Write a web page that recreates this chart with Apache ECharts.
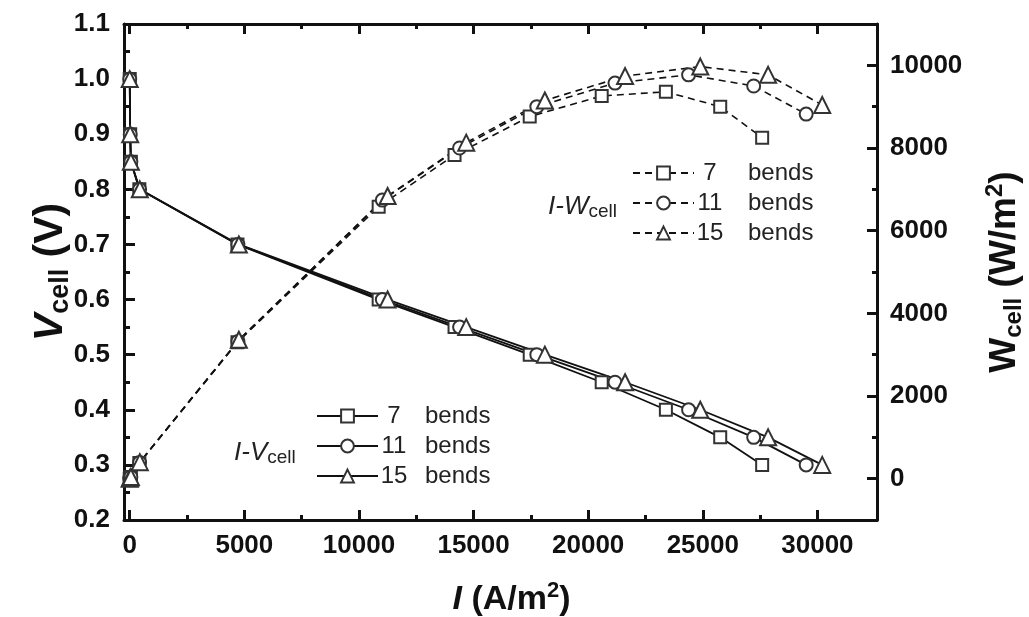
<!DOCTYPE html>
<html>
<head>
<meta charset="utf-8">
<script src="https://cdn.jsdelivr.net/npm/echarts@6/dist/echarts.min.js"></script>
<style>
  html, body { margin: 0; padding: 0; background: #fff; }
  #main { width: 1029px; height: 617px; }
</style>
</head>
<body>
<div id="main"></div>
<script>
// current density I (A/m2) of every measured point, one list per channel
const current7 = [0, 20, 50, 420, 4700, 10860, 14170, 17450, 20590, 23390, 25760, 27590];
const current11 = [0, 20, 50, 430, 4720, 11020, 14390, 17760, 21170, 24380, 27220, 29510];
const current15 = [0, 20, 50, 440, 4760, 11250, 14680, 18110, 21610, 24890, 27850, 30210];
// cell voltage (V)
const volt7 = [1.0, 0.9, 0.85, 0.8, 0.7, 0.6, 0.55, 0.5, 0.45, 0.4, 0.35, 0.3];
const volt11 = [1.0, 0.9, 0.85, 0.8, 0.7, 0.6, 0.55, 0.5, 0.45, 0.4, 0.35, 0.3];
const volt15 = [1.0, 0.9, 0.85, 0.8, 0.7, 0.6, 0.55, 0.5, 0.45, 0.4, 0.35, 0.3];
// cell power density (W/m2)
const power7 = [0, 20, 40, 380, 3300, 6580, 7830, 8760, 9260, 9360, 9000, 8250];
const power11 = [0, 20, 40, 390, 3320, 6740, 8000, 9000, 9570, 9770, 9500, 8820];
const power15 = [0, 20, 40, 400, 3360, 6840, 8130, 9150, 9740, 9970, 9770, 9040];

const xTicks = [0, 5000, 10000, 15000, 20000, 25000, 30000];
const xMinorTicks = [2500, 7500, 12500, 17500, 22500, 27500];
const wTicks = [0, 2000, 4000, 6000, 8000, 10000];
const wMinorTicks = [1000, 3000, 5000, 7000, 9000];

const bendLabels = { v7: '7', v11: '11', v15: '15', w7: '7', w11: '11', w15: '15' };

const FONT = "'Liberation Sans', Arial, sans-serif";
const INK = '#111';

function pairs(xs, ys) {
  return xs.map((x, i) => [x, ys[i]]);
}

const chart = echarts.init(document.getElementById('main'));

const tickLabel = { color: INK, fontFamily: FONT, fontWeight: 'bold', fontSize: 26 };

// rich styles for the axis titles, big = main letters, small = sub/superscripts
function nameRich(big, small) {
  return {
    i: { fontFamily: FONT, fontWeight: 'bold', fontStyle: 'italic', fontSize: big, lineHeight: big + 6, color: INK },
    n: { fontFamily: FONT, fontWeight: 'bold', fontSize: big, lineHeight: big + 6, color: INK },
    s: { fontFamily: FONT, fontWeight: 'bold', fontSize: small, lineHeight: small - 4, verticalAlign: 'bottom', color: INK },
    p: { fontFamily: FONT, fontWeight: 'bold', fontSize: small, lineHeight: small - 4, verticalAlign: 'top', color: INK }
  };
}
const axisLine = { show: true, onZero: false, lineStyle: { color: INK, width: 3 } };

function xAxisOf(position, ticks, len, withLine, withLabel) {
  return {
    type: 'value',
    position: position,
    min: -250,
    max: 32600,
    axisLine: withLine ? axisLine : { show: false, onZero: false },
    axisTick: { show: true, inside: true, length: len, customValues: ticks, lineStyle: { color: INK, width: 3 } },
    axisLabel: withLabel
      ? Object.assign({ customValues: ticks, margin: 13, formatter: v => String(v) }, tickLabel)
      : { show: false },
    splitLine: { show: false }
  };
}

const vSeries = [
  { name: 'v7', x: current7, y: volt7, symbol: 'emptyRect', size: 12 },
  { name: 'v11', x: current11, y: volt11, symbol: 'emptyCircle', size: 13 },
  { name: 'v15', x: current15, y: volt15, symbol: 'emptyTriangle', size: 16 }
].map(s => ({
  name: s.name,
  type: 'line',
  xAxisIndex: 0,
  yAxisIndex: 0,
  data: pairs(s.x, s.y),
  symbol: s.symbol,
  symbolSize: s.size,
  color: '#333',
  lineStyle: { color: INK, width: 1.8 },
  itemStyle: { borderWidth: 1.5, borderColor: '#333' },
  z: 3
}));

const wSeries = [
  { name: 'w7', x: current7, y: power7, symbol: 'emptyRect', size: 12 },
  { name: 'w11', x: current11, y: power11, symbol: 'emptyCircle', size: 13 },
  { name: 'w15', x: current15, y: power15, symbol: 'emptyTriangle', size: 16 }
].map(s => ({
  name: s.name,
  type: 'line',
  xAxisIndex: 0,
  yAxisIndex: 1,
  data: pairs(s.x, s.y),
  symbol: s.symbol,
  symbolSize: s.size,
  color: '#333',
  lineStyle: { color: INK, width: 1.6, type: [7, 5] },
  itemStyle: { borderWidth: 1.5, borderColor: '#333' },
  z: 2
}));

function legendOf(names, left, top, gap) {
  return {
    data: names,
    orient: 'vertical',
    left: left,
    top: top,
    itemWidth: 61,
    itemHeight: 16,
    itemGap: 6,
    selectedMode: false,
    formatter: name => '{n|' + bendLabels[name] + '}{b|bends}',
    textStyle: {
      color: '#222',
      rich: {
        n: { fontFamily: FONT, fontSize: 24, width: 22, align: 'right', lineHeight: 16, color: '#222' },
        b: { fontFamily: FONT, fontSize: 24, padding: [0, 0, 0, gap], lineHeight: 16, color: '#222' }
      }
    }
  };
}

chart.setOption({
  animation: false,
  backgroundColor: '#fff',
  grid: { left: 124, right: 152, top: 24, bottom: 97, containLabel: false, outerBoundsMode: 'none' },
  legend: [
    legendOf(['v7', 'v11', 'v15'], 311, 399, 20),
    legendOf(['w7', 'w11', 'w15'], 627, 156, 27)
  ],
  xAxis: [
    Object.assign(xAxisOf('bottom', xTicks, 10, true, true), {
      name: '{i|I}{n| (A/m}{p|2}{n|)}',
      nameLocation: 'middle',
      nameGap: 60,
      nameMoveOverlap: false,
      nameTextStyle: { rich: nameRich(34, 22), padding: [0, 0, 0, 22] }
    }),
    xAxisOf('bottom', xMinorTicks, 5, false, false),
    xAxisOf('top', xTicks, 10, true, false),
    xAxisOf('top', xMinorTicks, 5, false, false)
  ],
  yAxis: [
    {
      type: 'value',
      position: 'left',
      min: 0.2,
      max: 1.1,
      interval: 0.1,
      axisLine: axisLine,
      axisTick: { inside: true, length: 11, lineStyle: { color: INK, width: 3 } },
      minorTick: { show: true, splitNumber: 2, length: 6, lineStyle: { color: INK, width: 3 } },
      axisLabel: Object.assign({ margin: 14, formatter: v => v.toFixed(1) }, tickLabel),
      splitLine: { show: false },
      minorSplitLine: { show: false },
      name: '{i|V}{s|cell}{n| (V)}',
      nameLocation: 'middle',
      nameRotate: 90,
      nameGap: 50,
      nameMoveOverlap: false,
      nameTextStyle: { rich: nameRich(41, 27) }
    },
    {
      type: 'value',
      position: 'right',
      min: -1000,
      max: 11000,
      axisLine: axisLine,
      axisTick: { inside: true, length: 10, customValues: wTicks, lineStyle: { color: INK, width: 3 } },
      axisLabel: Object.assign({ margin: 13, customValues: wTicks, formatter: v => String(v) }, tickLabel),
      splitLine: { show: false },
      name: '{n|W}{s|cell}{n| (W/m}{p|2}{n|)}',
      nameLocation: 'middle',
      nameRotate: 90,
      nameGap: 106,
      nameMoveOverlap: false,
      nameTextStyle: { rich: nameRich(37, 24) }
    },
    {
      type: 'value',
      position: 'right',
      min: -1000,
      max: 11000,
      axisLine: { show: false, onZero: false },
      axisTick: { inside: true, length: 5, customValues: wMinorTicks, lineStyle: { color: INK, width: 3 } },
      axisLabel: { show: false },
      splitLine: { show: false }
    }
  ],
  graphic: [
    {
      type: 'text',
      left: 234,
      top: 440,
      style: {
        text: '{i|I-V}{s|cell}',
        rich: {
          i: { fontFamily: FONT, fontStyle: 'italic', fontSize: 26, lineHeight: 28, fill: '#222' },
          s: { fontFamily: FONT, fontSize: 19, lineHeight: 14, verticalAlign: 'bottom', fill: '#222' }
        }
      }
    },
    {
      type: 'text',
      left: 548,
      top: 194,
      style: {
        text: '{i|I-W}{s|cell}',
        rich: {
          i: { fontFamily: FONT, fontStyle: 'italic', fontSize: 26, lineHeight: 28, fill: '#222' },
          s: { fontFamily: FONT, fontSize: 19, lineHeight: 14, verticalAlign: 'bottom', fill: '#222' }
        }
      }
    }
  ],
  series: wSeries.concat(vSeries)
});
</script>
</body>
</html>
